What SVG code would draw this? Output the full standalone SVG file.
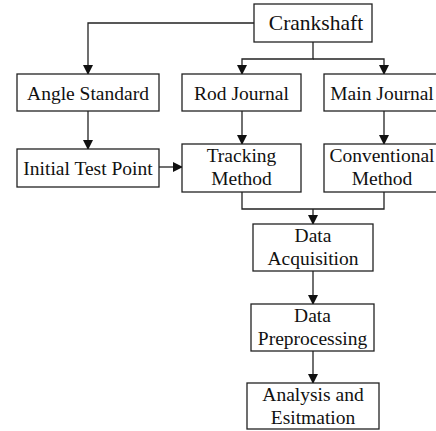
<svg xmlns="http://www.w3.org/2000/svg" width="436" height="431" viewBox="0 0 436 431">
<style>
rect{fill:#fff;stroke:#222;stroke-width:1.3}
text{font-family:"Liberation Serif","Times New Roman",serif;font-size:19.5px;fill:#111;text-anchor:middle}
.c{fill:none;stroke:#222;stroke-width:1.3}
</style>
<defs><marker id="a" markerWidth="10" markerHeight="10" refX="9" refY="5" orient="auto" markerUnits="userSpaceOnUse"><path d="M0,0 L10,5 L0,10 z" fill="#111"/></marker></defs>
<rect width="436" height="431" style="fill:#fff;stroke:none"/>
<g id="connectors">
<path class="c" d="M254,23 H88 V74" marker-end="url(#a)"/>
<path class="c" d="M313,42 V59 H242 V74" marker-end="url(#a)"/>
<path class="c" d="M313,59 H384 V74" marker-end="url(#a)"/>
<path class="c" d="M88,111 V149" marker-end="url(#a)"/>
<path class="c" d="M242,111 V144" marker-end="url(#a)"/>
<path class="c" d="M384,111 V144" marker-end="url(#a)"/>
<path class="c" d="M159,167 H182" marker-end="url(#a)"/>
<path class="c" d="M242,192 V209 H384 V192"/>
<path class="c" d="M313,209 V224" marker-end="url(#a)"/>
<path class="c" d="M313,271 V304" marker-end="url(#a)"/>
<path class="c" d="M313,351 V383" marker-end="url(#a)"/>
</g>
<g id="crankshaft"><rect x="254" y="4" width="118" height="38"/><text x="316" y="30" style="font-size:21.5px">Crankshaft</text></g>
<g id="angle-standard"><rect x="17" y="74" width="142" height="37"/><text x="88" y="100">Angle Standard</text></g>
<g id="rod-journal"><rect x="182" y="74" width="119" height="37"/><text x="241.5" y="100">Rod Journal</text></g>
<g id="main-journal"><rect x="324" y="74" width="120" height="37"/><text x="382" y="100">Main Journal</text></g>
<g id="initial-test-point"><rect x="17" y="149" width="142" height="38"/><text x="88" y="175">Initial Test Point</text></g>
<g id="tracking-method"><rect x="182" y="144" width="119" height="48"/><text x="241.5" y="162">Tracking</text><text x="241.5" y="185">Method</text></g>
<g id="conventional-method"><rect x="324" y="144" width="120" height="48"/><text x="382" y="162">Conventional</text><text x="382" y="185">Method</text></g>
<g id="data-acquisition"><rect x="253" y="224" width="120" height="47"/><text x="313" y="242">Data</text><text x="313" y="265">Acquisition</text></g>
<g id="data-preprocessing"><rect x="251" y="304" width="123" height="47"/><text x="312.5" y="322">Data</text><text x="312.5" y="345">Preprocessing</text></g>
<g id="analysis"><rect x="247" y="383" width="132" height="46"/><text x="313" y="401">Analysis and</text><text x="313" y="424">Esitmation</text></g>
</svg>
